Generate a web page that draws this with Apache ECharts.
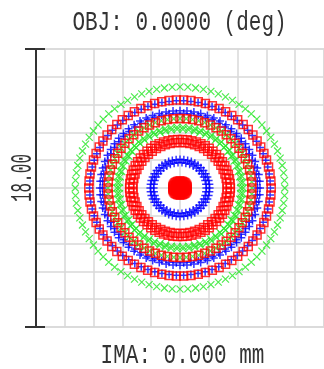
<!DOCTYPE html>
<html><head><meta charset="utf-8">
<script src="https://cdn.jsdelivr.net/npm/echarts@6/dist/echarts.min.js"></script>
<style>html,body{margin:0;padding:0;background:#fff}#c{width:324px;height:369px}</style>
</head><body><div id="c"></div>
<script>
// Spot diagram for the on-axis field, three wavelengths.
const titleText = 'OBJ: 0.0000 (deg)';
const footText = 'IMA: 0.000 mm';
const scaleText = '18.00';
const halfBox = 9;        // µm, half of the 18 µm box
const gridStep = 1.8;     // µm per grid division

// Ray rings per wavelength: [radius in µm, rays on the ring]
const blueRings = [[1.65, 42], [1.85, 48], [4.85, 66], [5.0, 72], [5.65, 78]];
const greenRings = [[3.8, 66], [3.95, 66], [4.5, 72], [6.55, 84]];
const redRings = [[0.3, 24], [0.45, 30], [2.95, 60], [3.15, 66], [4.5, 72], [5.7, 78]];

function ringPoints(rings) {
  const pts = [];
  rings.forEach(([r, n]) => {
    for (let k = 0; k < n; k++) {
      const a = 2 * Math.PI * k / n;
      pts.push([r * Math.cos(a), r * Math.sin(a)]);
    }
  });
  return pts;
}

const chart = echarts.init(document.getElementById('c'), null, {renderer: 'canvas'});
const gridColor = '#d8d8d8';
const axisCommon = {
  type: 'value', min: -halfBox, max: halfBox, interval: gridStep,
  axisLabel: {show: false}, axisTick: {show: false}, axisLine: {show: false},
  splitLine: {show: true, lineStyle: {color: gridColor, width: 1.5}}
};
const mono = '"Liberation Mono", "DejaVu Sans Mono", monospace';

chart.setOption({
  animation: false,
  backgroundColor: '#fff',
  grid: {left: 36, top: 49, width: 293, height: 278, show: true, borderColor: gridColor, borderWidth: 1.5},
  xAxis: axisCommon,
  yAxis: axisCommon,
  series: [
    {type: 'scatter', data: ringPoints(blueRings), symbol: 'path://M0,5L10,5M5,0L5,10', symbolSize: 8,
     itemStyle: {color: 'rgba(0,0,0,0)', borderColor: '#0000ff', borderWidth: 1.5}, z: 2},
    {type: 'scatter', data: ringPoints(greenRings), symbol: 'path://M0,0L10,10M10,0L0,10', symbolSize: 7,
     itemStyle: {color: 'rgba(0,0,0,0)', borderColor: '#22e622', borderWidth: 1.2}, z: 3},
    {type: 'scatter', data: ringPoints(redRings), symbol: 'rect', symbolSize: 8,
     itemStyle: {color: 'rgba(0,0,0,0)', borderColor: '#ff0000', borderWidth: 1.5}, z: 4}
  ]
});

// Scale bar on the left edge plus the text labels
const barTop = chart.convertToPixel({gridIndex: 0}, [-halfBox, halfBox]);
const barBot = chart.convertToPixel({gridIndex: 0}, [-halfBox, -halfBox]);
const ink = '#333';
const barStyle = {stroke: '#333', lineWidth: 2};
chart.setOption({
  graphic: [
    {type: 'line', shape: {x1: barTop[0], y1: barTop[1], x2: barBot[0], y2: barBot[1]}, style: barStyle, z: 10},
    {type: 'line', shape: {x1: barTop[0] - 11, y1: barTop[1], x2: barTop[0] + 9, y2: barTop[1]}, style: barStyle, z: 10},
    {type: 'line', shape: {x1: barBot[0] - 11, y1: barBot[1], x2: barBot[0] + 9, y2: barBot[1]}, style: barStyle, z: 10},
    {type: 'text', x: 179.5, y: 22, scaleY: 1.35,
     style: {text: titleText, font: '21px ' + mono, fill: ink, align: 'center', verticalAlign: 'middle', textAlign: 'center', textVerticalAlign: 'middle'}},
    {type: 'text', x: 182.5, y: 355, scaleY: 1.35,
     style: {text: footText, font: '21px ' + mono, fill: ink, align: 'center', verticalAlign: 'middle', textAlign: 'center', textVerticalAlign: 'middle'}},
    {type: 'text', x: 23, y: 178, rotation: Math.PI / 2, scaleY: 1.8,
     style: {text: scaleText, font: '16px ' + mono, fill: ink, align: 'center', verticalAlign: 'middle', textAlign: 'center', textVerticalAlign: 'middle'}}
  ]
});
</script></body></html>
